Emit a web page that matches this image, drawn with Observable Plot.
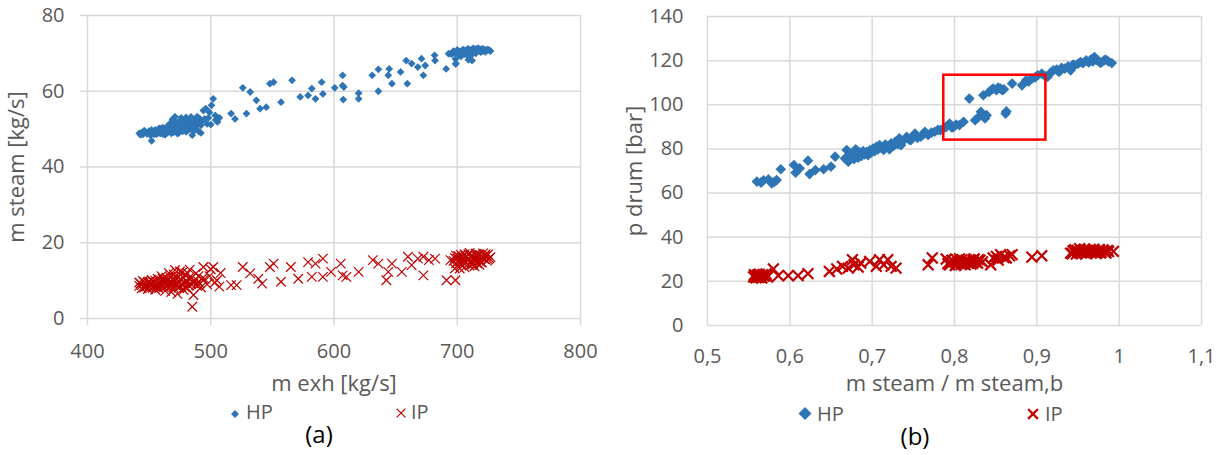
<!DOCTYPE html>
<html><head><meta charset="utf-8">
<script src="https://cdn.jsdelivr.net/npm/d3@7"></script>
<script src="https://cdn.jsdelivr.net/npm/@observablehq/plot@0.6"></script>
<style>
body{margin:0;background:#fff;font-family:"Open Sans",sans-serif;}
#wrap{position:relative;width:1222px;height:455px;overflow:hidden;background:#fff}
.chart{position:absolute;top:0}
g[aria-label="x-axis label"] text, g[aria-label="y-axis label"] text{font-size:22px}
.lg{position:absolute;font-size:20px;color:#595959;line-height:1;transform:translateY(-50%);white-space:nowrap}
.sw{position:absolute;transform:translate(-50%,-50%)}
.cap{position:absolute;font-size:24px;color:#000;line-height:1;transform:translate(-50%,-50%)}
</style></head>
<body><div id="wrap"></div>
<script>
// ---------- Chart (a): m steam vs m exh ----------
const xTicksA = [400, 500, 600, 700, 800];
const yTicksA = [0, 20, 40, 60, 80];
const hpA = [
[442,48.9],[444,49.1],[445,48.6],[447,49.3],[448,48.8],[450,49.5],[451,48.4],[452,46.9],[453,49.0],[455,49.8],[456,48.7],[457,49.4],[458,50.2],[459,48.9],[460,49.6],[461,50.4],[462,49.1],[463,48.5],[464,50.0],[465,50.8],[466,49.4],[467,51.5],[468,50.2],[469,52.6],[470,49.2],[470,51.0],[471,53.3],[472,50.5],[473,48.8],[474,52.0],[475,50.0],[476,51.2],[477,49.4],[478,52.3],[479,50.6],[480,53.1],[481,51.4],[482,49.8],[483,52.0],[484,50.2],[485,48.4],[486,51.5],[487,52.6],[488,50.0],[489,51.2],[490,49.5],[491,52.8],[492,51.0],[494,54.9],[495,52.7],[496,55.4],[498,53.0],[500,51.2],[500.6,56.3],[502,58.0],[503.7,53.6],[505.5,51.9],[507,53.0],
[443,48.5],[446,49.6],[449,48.9],[452,49.8],[454,48.6],[457,48.9],[459,50.1],[461,48.7],[463,49.7],[465,49.1],[466,50.6],[468,48.9],[469,50.8],[471,49.6],[472,51.8],[474,49.0],[475,51.6],[476,53.0],[477,50.8],[479,52.0],[480,49.3],[481,52.5],[483,50.6],[484,53.2],[486,49.4],[487,50.6],[489,53.3],[490,51.6],[492,49.0],[493,52.2],[497,51.4],[499,54.4],[504,52.4],
[516.5,54.1],[519.7,52.7],[526,60.9],[529,54.1],[532,59.8],[537,57.6],[540,55.4],[545,55.8],[548,62.0],[551,62.4],[557,57.1],[566,62.9],[572.6,58.5],[579,58.9],[582,60.7],[585,58.0],[590,62.4],[591,59.3],[600.6,60.9],[607,61.5],[607,64.2],[607.5,57.8],[608,61.1],[620,58.0],[620,59.5],[631,64.2],[636,65.8],[636,60.0],[644,64.2],[644.8,65.9],[647,62.0],[654,65.1],[658.6,68.1],[659.5,62.0],[663,67.3],[668,66.4],[671,68.6],[672.5,64.2],[674,66.8],[681.6,69.5],[682,68.1],[691,65.9],[693,69.9],[695,69.9],[698.6,67.2],[698.6,68.5],[699,67.3],[701.5,69.9],
[696,69.9],[698,70.3],[700,70.0],[701,69.6],[702,70.5],[703,69.2],[704,70.8],[705,70.1],[706,69.8],[707,70.6],[708,71.0],[709,70.2],[710,70.7],[711,69.4],[712,68.1],[712,71.1],[713,70.4],[714,70.9],[715,71.2],[716,70.5],[717,70.8],[718,71.0],[719,70.3],[720,71.1],[721,70.6],[722,70.9],[723,70.7],[724,71.0],[726,70.8],[727,70.6],[710,69.0],[709,68.3],
[697,70.6],[700,70.9],[703,70.2],[705,71.0],[707,69.9],[709,71.2],[711,70.3],[713,71.3],[715,70.0],[717,71.4],[719,71.0],[721,71.2],[723,70.4],[725,71.0]
];
const ipA = [
[442,8.6],[443,9.2],[444,8.0],[446,9.6],[447,8.4],[448,9.0],[449,7.8],[450,9.8],[451,8.7],[452,10.2],[453,8.2],[454,9.4],[455,7.6],[456,8.9],[457,10.5],[458,8.0],[459,9.3],[460,11.2],[461,8.5],[462,9.8],[463,7.3],[464,10.8],[465,8.8],[466,12.0],[467,9.5],[468,7.0],[469,10.3],[470,8.1],[471,12.8],[472,9.0],[473,6.5],[474,11.0],[475,8.4],[476,10.0],[477,12.2],[478,7.6],[479,9.4],[480,11.5],[481,8.0],[482,10.6],[483,12.9],[484,9.1],[485,3.1],[486,6.2],[487,10.0],[488,11.9],[489,8.6],[490,9.7],[492,8.2],[494,13.6],[495,10.4],[497,9.0],[499,11.2],[500,13.0],[502,13.6],[503,9.4],[505,10.1],[507,8.4],[508,12.0],
[442,9.5],[444,8.8],[445,9.9],[446,8.2],[448,8.5],[449,9.6],[450,8.3],[451,9.2],[453,9.8],[454,8.6],[455,10.0],[456,8.3],[458,9.6],[459,8.5],[460,9.9],[461,10.5],[462,8.3],[463,9.4],[464,8.6],[465,10.1],[466,9.0],[467,11.0],[468,8.6],[469,9.4],[470,11.6],[471,8.8],[472,10.6],[473,9.6],[474,8.2],[475,12.4],[476,9.0],[478,10.8],[479,8.3],[480,9.9],[481,12.0],[482,8.8],[484,10.6],[486,9.3],[488,8.9],[490,11.2],[491,9.2],[493,10.5],
[516.5,8.8],[521,8.8],[526,13.6],[532,11.9],[538.6,10.5],[541.7,9.2],[548,13.6],[551,14.5],[557,9.7],[565,13.6],[571,10.5],[579,14.9],[582,11.0],[585,14.5],[591,15.8],[591,11.0],[597.6,12.3],[605.5,14.5],[607,11.4],[610,11.0],[620,12.3],[631.5,15.4],[636,14.5],[642.5,10.1],[644,12.3],[647,14.5],[655,12.3],[660,16.3],[663,14.1],[668,15.8],[672.5,11.4],[672.5,16.3],[677,15.4],[682,15.8],[691.3,10.1],[694.5,15.4],[698.5,10.1],[698,13.2],
[697,15.2],[698,16.0],[699,14.6],[700,15.8],[701,16.5],[702,15.0],[703,14.2],[704,16.2],[705,15.5],[706,17.0],[707,14.8],[708,16.4],[709,15.6],[710,17.3],[711,15.1],[712,16.7],[713,14.5],[714,15.9],[715,17.1],[716,16.3],[717,15.4],[718,16.8],[719,14.9],[720,16.1],[721,17.2],[722,15.7],[723,16.5],[724,15.3],[725,16.9],[726,15.9],[727,16.2],[710,14.0],[714,13.8],[718,14.2],[706,13.5],[702,13.2],
[699,16.6],[701,15.3],[703,16.8],[705,14.8],[707,16.1],[709,17.0],[711,16.4],[713,15.6],[715,16.6],[717,16.9],[719,15.8],[721,16.0],[723,17.0],[725,15.6],[712,14.2],[716,14.6],[720,14.8]
];

// ---------- Chart (b): p drum vs m steam / m steam,b ----------
const xTicksB = [0.5, 0.6, 0.7, 0.8, 0.9, 1.0, 1.1];
const yTicksB = [0, 20, 40, 60, 80, 100, 120, 140];
const hpB = [
[0.560,65.2],[0.565,64.7],[0.568,65.8],[0.574,66.2],[0.578,64.4],[0.581,65.0],[0.584,65.9],[0.589,70.8],[0.605,72.7],[0.607,69.2],[0.612,71.2],[0.622,74.7],[0.624,68.6],[0.631,70.4],[0.641,70.8],[0.650,72.0],[0.655,76.5],[0.667,75.7],[0.669,79.5],[0.671,74.2],[0.672,77.0],[0.674,76.0],[0.676,78.2],[0.678,75.4],[0.680,79.8],[0.681,77.3],[0.683,76.0],[0.685,78.5],[0.687,76.8],[0.689,79.0],[0.691,77.5],[0.693,78.6],[0.695,77.2],[0.697,79.4],[0.699,78.4],[0.701,80.2],[0.703,79.0],[0.705,81.0],[0.707,79.8],[0.709,81.7],[0.711,80.4],[0.714,79.5],[0.716,82.0],[0.719,81.0],[0.721,79.8],[0.723,82.5],[0.726,81.4],[0.728,83.2],[0.731,82.2],[0.733,84.8],[0.735,81.7],[0.738,83.8],[0.742,85.5],[0.745,84.2],[0.747,84.0],[0.750,85.9],[0.752,87.0],[0.755,85.0],[0.759,85.5],[0.762,86.6],[0.764,87.8],[0.768,86.3],[0.772,87.4],[0.776,87.8],[0.780,88.6],[0.783,88.5],[0.787,89.4],[0.790,90.0],[0.794,91.5],[0.797,89.6],[0.799,90.0],[0.802,91.0],[0.806,90.8],[0.811,92.3],[0.818,102.8],[0.825,93.0],[0.828,94.0],[0.832,96.8],[0.834,95.5],[0.835,104.3],[0.837,93.8],[0.839,95.3],[0.842,105.8],[0.845,106.8],[0.847,107.3],[0.851,106.6],[0.853,107.8],[0.856,107.3],[0.858,106.6],[0.860,107.0],[0.862,96.0],[0.863,97.0],[0.870,109.6],[0.882,108.8],[0.887,111.1],[0.890,110.5],[0.894,111.8],[0.898,112.4],[0.901,113.4],[0.906,114.1],[0.910,113.0],[0.913,112.6],[0.917,114.6],[0.920,115.6],[0.924,116.0],[0.927,114.9],[0.930,116.8],[0.934,116.4],[0.938,117.4],[0.941,115.6],[0.944,118.2],[0.946,117.9],[0.950,118.6],[0.953,119.4],[0.956,118.8],[0.960,120.1],[0.963,119.2],[0.966,120.6],[0.968,119.6],[0.970,121.6],[0.972,120.4],[0.974,120.1],[0.977,119.0],[0.979,119.4],[0.982,120.2],[0.984,120.4],[0.987,119.6],[0.991,118.9]
];
const ipB = [
[0.556,22.0],[0.558,22.6],[0.559,21.6],[0.561,22.9],[0.562,21.8],[0.563,23.2],[0.565,22.2],[0.566,21.5],[0.567,23.0],[0.569,22.4],[0.571,23.4],[0.573,22.0],[0.580,25.6],[0.586,22.6],[0.598,22.6],[0.610,22.6],[0.622,23.5],[0.648,24.5],[0.657,25.6],[0.664,26.8],[0.671,26.0],[0.676,29.8],[0.678,27.5],[0.683,26.5],[0.686,28.3],[0.697,29.0],[0.705,26.8],[0.709,29.8],[0.714,27.5],[0.719,29.8],[0.723,26.8],[0.729,26.0],[0.768,27.5],[0.773,30.6],[0.790,30.1],[0.792,28.0],[0.794,27.5],[0.797,29.6],[0.799,29.0],[0.801,27.2],[0.804,28.3],[0.806,30.2],[0.809,29.8],[0.811,28.0],[0.813,27.5],[0.815,29.4],[0.818,29.0],[0.820,27.8],[0.823,29.8],[0.826,28.6],[0.828,28.3],[0.831,29.6],[0.834,28.8],[0.844,27.5],[0.847,30.6],[0.851,31.3],[0.853,29.6],[0.856,32.1],[0.860,30.8],[0.863,30.6],[0.867,31.6],[0.870,32.1],[0.894,31.0],[0.906,31.6],[0.941,32.8],[0.944,33.8],[0.946,34.3],[0.948,32.4],[0.950,33.6],[0.952,34.8],[0.954,32.9],[0.956,33.9],[0.958,34.6],[0.960,32.6],[0.962,33.4],[0.964,34.2],[0.966,33.0],[0.968,34.0],[0.970,33.2],[0.972,32.6],[0.974,33.8],[0.976,34.4],[0.978,33.1],[0.981,33.9],[0.984,32.8],[0.987,33.5],[0.993,33.6],
[0.557,23.0],[0.560,22.2],[0.564,21.9],[0.568,22.6],[0.795,28.8],[0.803,29.6],[0.808,27.6],[0.812,29.2],[0.817,28.4],[0.822,28.2],[0.824,30.2],[0.829,29.8],[0.943,32.5],[0.949,34.0],[0.953,33.2],[0.957,33.0],[0.961,34.0],[0.965,33.6],[0.969,34.6],[0.973,33.4],[0.977,32.9],[0.980,34.2],[0.983,33.4],[0.986,34.0]
];
const highlightB = [{x1: 0.787, x2: 0.911, y1: 84.0, y2: 113.4}];

const labels = {
  a: {x: "m exh [kg/s]", y: "m steam [kg/s]", cap: "(a)"},
  b: {x: "m steam / m steam,b", y: "p drum [bar]", cap: "(b)"},
  series: ["HP", "IP"]
};
const BLUE = "#2e75b6", RED = "#c00000", GRID = "#d9d9d9", TXT = "#595959";
const commaFmt = d => String(d).replace(".", ",");
const style = {fontFamily: "Open Sans", fontSize: "20px", color: TXT, background: "transparent", overflow: "visible"};

const chartA = Plot.plot({
  width: 610, height: 395, marginLeft: 87, marginRight: 30, marginTop: 15, marginBottom: 77,
  style,
  x: {domain: [400, 800]},
  y: {domain: [0, 80]},
  marks: [
    Plot.gridX(xTicksA, {stroke: GRID, strokeOpacity: 1, strokeWidth: 1.5}),
    Plot.gridY(yTicksA, {stroke: GRID, strokeOpacity: 1, strokeWidth: 1.5}),
    Plot.axisX(xTicksA, {tickSize: 7, tickPadding: 18, stroke: GRID, strokeWidth: 1.5, fill: TXT,
      label: labels.a.x, labelAnchor: "center", labelOffset: 72, labelArrow: "none"}),
    Plot.axisY(yTicksA, {tickSize: 7, tickPadding: 16, stroke: GRID, strokeWidth: 1.5, fill: TXT,
      label: labels.a.y, labelAnchor: "center", labelOffset: 79, labelArrow: "none"}),
    Plot.dot(hpA, {x: d => d[0], y: d => d[1], symbol: "diamond2", fill: BLUE, r: 3.5}),
    Plot.dot(ipA, {x: d => d[0], y: d => d[1], symbol: "times", stroke: RED, strokeWidth: 1.2, r: 4.4})
  ]
});
chartA.classList.add("chart");
chartA.style.left = "0px";

const chartB = Plot.plot({
  width: 612, height: 395, marginLeft: 97, marginRight: 21, marginTop: 16, marginBottom: 70,
  style,
  x: {domain: [0.5, 1.1]},
  y: {domain: [0, 140]},
  marks: [
    Plot.gridX(xTicksB, {stroke: GRID, strokeOpacity: 1, strokeWidth: 1.5}),
    Plot.gridY(yTicksB, {stroke: GRID, strokeOpacity: 1, strokeWidth: 1.5}),
    Plot.axisX(xTicksB, {tickSize: 0, tickPadding: 23, fill: TXT, tickFormat: commaFmt,
      label: labels.b.x, labelAnchor: "center", labelOffset: 65, labelArrow: "none"}),
    Plot.axisY(yTicksB, {tickSize: 0, tickPadding: 24, fill: TXT,
      label: labels.b.y, labelAnchor: "center", labelOffset: 81, labelArrow: "none"}),
    Plot.dot(hpB, {x: d => d[0], y: d => d[1], symbol: "diamond2", fill: BLUE, r: 4.8}),
    Plot.dot(ipB, {x: d => d[0], y: d => d[1], symbol: "times", stroke: RED, strokeWidth: 2.2, r: 5.0}),
    Plot.rect(highlightB, {x1: "x1", x2: "x2", y1: "y1", y2: "y2", fill: "none", stroke: "#ff0000", strokeWidth: 2.5})
  ]
});
chartB.classList.add("chart");
chartB.style.left = "610px";

const wrap = document.getElementById("wrap");
wrap.appendChild(chartA);
wrap.appendChild(chartB);

function diamond(size) {
  const h = size / 2;
  return `<svg width="${size}" height="${size}" viewBox="${-h} ${-h} ${size} ${size}"><path d="M0,${-h}L${h},0L0,${h}L${-h},0Z" fill="${BLUE}"/></svg>`;
}
function cross(size, sw) {
  const h = size / 2 - sw / 2;
  return `<svg width="${size}" height="${size}" viewBox="${-size/2} ${-size/2} ${size} ${size}"><path d="M${-h},${-h}L${h},${h}M${-h},${h}L${h},${-h}" stroke="${RED}" stroke-width="${sw}" fill="none"/></svg>`;
}
function add(html, cls, left, top) {
  const el = document.createElement("div");
  el.className = cls; el.innerHTML = html;
  el.style.left = left + "px"; el.style.top = top + "px";
  wrap.appendChild(el);
}
// legend (a)
add(diamond(8), "sw", 235, 412);
add(labels.series[0], "lg", 246, 412);
add(cross(10, 1.2), "sw", 401, 412);
add(labels.series[1], "lg", 411, 412);
add(labels.a.cap, "cap", 319, 434);
// legend (b)
add(diamond(13), "sw", 805, 414);
add(labels.series[0], "lg", 817, 414);
add(cross(12, 2.2), "sw", 1033, 414);
add(labels.series[1], "lg", 1045, 414);
add(labels.b.cap, "cap", 915, 436);
</script>
</body></html>
